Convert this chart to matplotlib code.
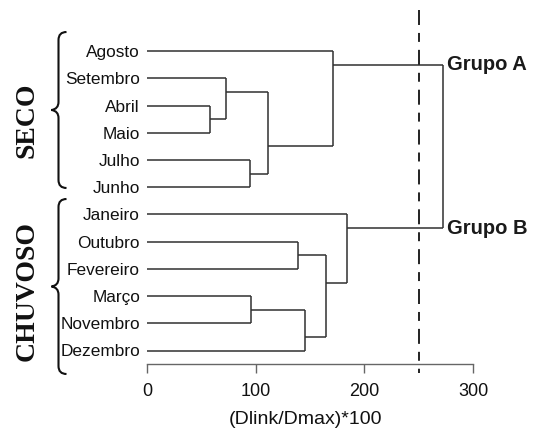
import matplotlib
matplotlib.use("Agg")
import matplotlib.pyplot as plt
from matplotlib.path import Path
from matplotlib.patches import PathPatch

# ---------------- data ----------------
leaves = ['Agosto', 'Setembro', 'Abril', 'Maio', 'Julho', 'Junho',
          'Janeiro', 'Outubro', 'Fevereiro', 'Março', 'Novembro', 'Dezembro']
# merges: (left cluster id, right cluster id); new cluster ids start at 12
merge_left = [2, 1, 4, 13, 0, 7, 9, 18, 17, 6, 16]
merge_right = [3, 12, 5, 14, 15, 8, 10, 11, 19, 20, 21]
merge_height = [58, 73, 95, 111.5, 171, 138.5, 96, 145.5, 165, 184, 272]
cut_level = 250
group_labels = ['Grupo A', 'Grupo B']
x_ticks = [0, 100, 200, 300]
x_label = '(Dlink/Dmax)*100'
season_labels = ['SECO', 'CHUVOSO']

# ---------------- figure ----------------
W, H = 533, 432
fig = plt.figure(figsize=(W / 100, H / 100), dpi=100)
plt.rcParams['font.family'] = ['Liberation Sans', 'DejaVu Sans']

# axes geometry in pixels
x0_px, x300_px = 147, 473
leaf0_px, step_px = 51.3, 27.2
axis_px = 364
top_px = 10
ax = fig.add_axes([x0_px / W, 1 - axis_px / H,
                   (x300_px - x0_px) / W, (axis_px - top_px) / H])
ax.set_xlim(0, 300)
ybot = (axis_px - leaf0_px) / step_px
ytop = (top_px - leaf0_px) / step_px
ax.set_ylim(ybot, ytop)

n = len(leaves)
# cluster info: (first leaf pos, last leaf pos, y, height)
info = {i: (i, i, i, 0.0) for i in range(n)}
lc = '#303030'
lw = 1.1
for k, (l, r, h) in enumerate(zip(merge_left, merge_right, merge_height)):
    lf, ll, ly, lh = info[l]
    rf, rl, ry, rh = info[r]
    ax.plot([lh, h], [ly, ly], color=lc, lw=lw, solid_capstyle='butt')
    ax.plot([rh, h], [ry, ry], color=lc, lw=lw, solid_capstyle='butt')
    ax.plot([h, h], [ly, ry], color=lc, lw=lw, solid_capstyle='butt')
    cy = (ll + rf) / 2.0
    info[n + k] = (lf, rl, cy, h)

# group labels at the two children of the root
root_l, root_r, root_h = merge_left[-1], merge_right[-1], merge_height[-1]
for cid, lab in zip([root_l, root_r], group_labels):
    ax.text(root_h + 4.5, info[cid][2], lab, ha='left', va='center',
            fontsize=14.5, fontweight='bold', color='#1a1a1a', clip_on=False)

# cut line
ax.plot([cut_level, cut_level], [ytop, ybot + 0.33], color='#222222', lw=1.4,
        linestyle=(0, (7.7, 4.1, 4.6, 4.1)), clip_on=False)

# axes styling
ax.set_yticks(range(n))
ax.set_yticklabels(leaves, fontsize=12.4, color='#111111')
ax.tick_params(axis='y', length=0, pad=5)
ax.set_xticks(x_ticks)
ax.set_xticklabels([str(t) for t in x_ticks], fontsize=13, color='#111111')
ax.tick_params(axis='x', direction='out', length=6.5, width=1.0,
               color='#666666', pad=7.5)
for s in ['left', 'right', 'top']:
    ax.spines[s].set_visible(False)
ax.spines['bottom'].set_color('#666666')
ax.spines['bottom'].set_linewidth(1.0)
ax.spines['bottom'].set_bounds(0, 300)
ax.set_xlabel(x_label, fontsize=14, color='#111111', va='center')
ax.xaxis.set_label_coords((305 - x0_px) / (x300_px - x0_px),
                          -(420 - axis_px) / (axis_px - top_px))
ax.patch.set_alpha(0)


# braces
def px2fig(x, y):
    return (x / W, 1 - y / H)


def brace(top, bottom, xv=58.5, xend=66.5, xtip=51.5, r=8):
    mid = (top + bottom) / 2.0
    pts = [(xend, top), (xv, top), (xv, top + r),
           (xv, mid - r), (xv, mid - 1), (xtip, mid),
           (xv, mid + 1), (xv, mid + r),
           (xv, bottom - r), (xv, bottom), (xend, bottom)]
    codes = [Path.MOVETO, Path.CURVE3, Path.CURVE3,
             Path.LINETO, Path.CURVE3, Path.CURVE3,
             Path.CURVE3, Path.CURVE3,
             Path.LINETO, Path.CURVE3, Path.CURVE3]
    verts = [px2fig(x, y) for x, y in pts]
    p = PathPatch(Path(verts, codes), transform=fig.transFigure,
                  fill=False, lw=1.5, edgecolor='#111111')
    fig.patches.append(p)


brace(32, 188)
brace(199, 374)

fig.text(27 / W, 1 - 120 / H, season_labels[0], rotation=90, ha='center',
         va='center', fontsize=20, fontweight='bold',
         family=['Liberation Serif', 'DejaVu Serif'], color='#111111')
fig.text(27 / W, 1 - 291 / H, season_labels[1], rotation=90, ha='center',
         va='center', fontsize=20, fontweight='bold',
         family=['Liberation Serif', 'DejaVu Serif'], color='#111111')

fig.savefig('out.png', dpi=100, facecolor='white')
